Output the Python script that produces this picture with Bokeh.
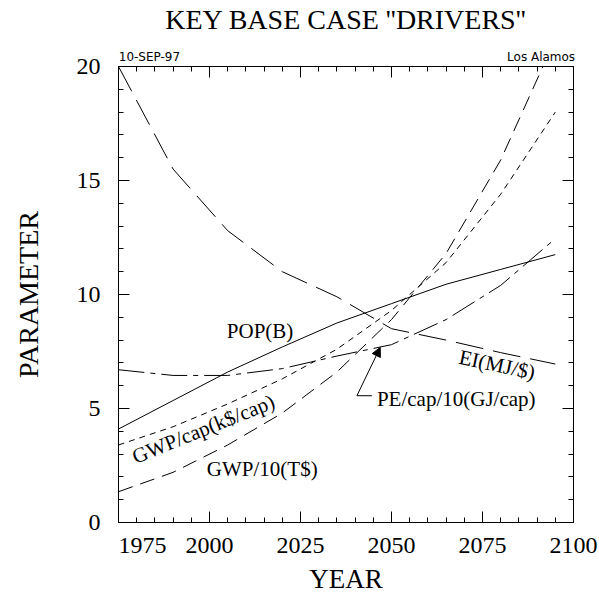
from bokeh.plotting import figure
from bokeh.models import (Range1d, LinearAxis, FixedTicker, Label, Arrow,
                          NormalHead, CustomJSTickFormatter)
from bokeh.embed import file_html
from bokeh.resources import INLINE

# ---- data ----
years = [1975, 1990, 2005, 2020, 2035, 2050, 2065, 2080, 2095]
pop_b = [4.1, 5.35, 6.6, 7.7, 8.75, 9.6, 10.45, 11.1, 11.75]
gwp_cap = [3.4, 4.2, 5.2, 6.3, 7.6, 9.3, 11.4, 14.4, 18.0]
gwp_10 = [1.35, 2.2, 3.4, 4.8, 6.6, 8.9, 11.8, 15.9, 21.2]
ei_mj = [20.0, 15.5, 12.8, 11.0, 9.9, 8.5, 8.0, 7.45, 6.95]
pe_cap_10 = [6.7, 6.45, 6.45, 6.75, 7.3, 7.8, 8.9, 10.4, 12.45]

x_major = [1975, 2000, 2025, 2050, 2075, 2100]
x_minor = list(range(1975, 2101, 5))
y_major = [0, 5, 10, 15, 20]
y_minor = list(range(0, 21))
x_tick_labels = ["1975", "2000", "2025", "2050", "2075", "2100"]
# where each x tick label is centred (the first one sits inside the frame edge)
x_label_pos = [1981.6, 2000, 2025, 2050, 2075, 2100]

title_text = "KEY BASE CASE ''DRIVERS''"
title_pos = [2037.5]
x_title = "YEAR"
y_title = "PARAMETER"
corner_texts = ["10-SEP-97", "Los Alamos"]
corner_pos = [1983.5, 2091.1]

SERIF = "Liberation Serif"
SANS = "DejaVu Sans"

p = figure(width=599, height=598, x_range=Range1d(1975, 2100), y_range=Range1d(0, 20),
           output_backend="svg", toolbar_location=None, title=None,
           min_border_left=118, min_border_right=26, min_border_top=66, min_border_bottom=76,
           x_axis_location=None, y_axis_location=None)
p.xgrid.visible = False
p.ygrid.visible = False
p.outline_line_color = "black"
p.background_fill_color = "white"
p.border_fill_color = "white"


def pick(vals, labs):
    return CustomJSTickFormatter(args=dict(vals=vals, labs=labs), code="""
        let best = 0, d = 1e9;
        for (let i = 0; i < vals.length; i++) {
            const e = Math.abs(vals[i] - tick);
            if (e < d) { d = e; best = i; }
        }
        return labs[best];
    """)


def tick_axis(ticks, minors):
    ax = LinearAxis()
    ax.ticker = FixedTicker(ticks=ticks, minor_ticks=minors)
    ax.axis_line_color = "black"
    ax.major_tick_in = 11
    ax.major_tick_out = 0
    ax.minor_tick_in = 5
    ax.minor_tick_out = 0
    ax.major_tick_line_color = "black"
    ax.minor_tick_line_color = "black"
    return ax


def hide_labels(ax):
    ax.formatter = CustomJSTickFormatter(code="return ''")
    ax.major_label_standoff = 0
    ax.major_label_text_font_size = "1px"


def label_axis(pos, labs, font, size, standoff):
    ax = LinearAxis()
    ax.ticker = FixedTicker(ticks=pos, minor_ticks=[])
    ax.formatter = pick(pos, labs)
    ax.axis_line_color = None
    ax.major_tick_line_color = None
    ax.minor_tick_line_color = None
    ax.major_tick_in = 0
    ax.major_tick_out = 0
    ax.major_label_text_font = font
    ax.major_label_text_font_size = size
    ax.major_label_text_color = "black"
    ax.major_label_standoff = standoff
    return ax


# left axis: ticks + labels + title
left = tick_axis(y_major, y_minor)
left.major_label_text_font = SERIF
left.major_label_text_font_size = "24px"
left.major_label_text_color = "black"
left.major_label_standoff = 18
left.axis_label = y_title
left.axis_label_text_font = SERIF
left.axis_label_text_font_size = "28px"
left.axis_label_text_font_style = "normal"
left.axis_label_text_color = "black"
left.axis_label_standoff = 30
p.add_layout(left, "left")

right = tick_axis(y_major, y_minor)
hide_labels(right)
p.add_layout(right, "right")

# bottom: tick marks, then a label row carrying the year labels and the axis title
below = tick_axis(x_major, x_minor)
hide_labels(below)
p.add_layout(below, "below")
below_lab = label_axis(x_label_pos, x_tick_labels, SERIF, "24px", 15)
below_lab.axis_label = x_title
below_lab.axis_label_text_font = SERIF
below_lab.axis_label_text_font_size = "27px"
below_lab.axis_label_text_font_style = "normal"
below_lab.axis_label_text_color = "black"
below_lab.axis_label_standoff = 8
p.add_layout(below_lab, "below")

# top: tick marks, corner texts, then the title row
above = tick_axis(x_major, x_minor)
hide_labels(above)
p.add_layout(above, "above")
above_lab = label_axis(corner_pos, corner_texts, SANS, "12px", 3)
p.add_layout(above_lab, "above")
title_row = label_axis(title_pos, [title_text], SERIF, "28px", 12)
p.add_layout(title_row, "above")

# ---- curves ----
p.line(years, pop_b, line_color="black", line_width=1)
p.line(years, gwp_cap, line_color="black", line_width=1, line_dash="6 5")
p.line(years, gwp_10, line_color="black", line_width=1, line_dash="15 8")
p.line(years, ei_mj, line_color="black", line_width=1, line_dash="28 10")
p.line(years, pe_cap_10, line_color="black", line_width=1, line_dash="26 6 5 6")

# ---- curve labels ----
lab = dict(text_font=SERIF, text_font_size="21px", text_color="black")
p.add_layout(Label(x=2013.9, y=8.4, text="POP(B)", text_align="center",
                   text_baseline="middle", **lab))
p.add_layout(Label(x=1998.3, y=4.1, text="GWP/cap(k$/cap)", text_align="center",
                   text_baseline="middle", angle=22, angle_units="deg", **lab))
p.add_layout(Label(x=2014.5, y=2.35, text="GWP/10(T$)", text_align="center",
                   text_baseline="middle", **lab))
p.add_layout(Label(x=2079.0, y=6.92, text="EI(MJ/$)", text_align="center",
                   text_baseline="middle", angle=-12, angle_units="deg", **lab))
p.add_layout(Label(x=2046.0, y=5.43, text="PE/cap/10(GJ/cap)", text_align="left",
                   text_baseline="middle", **lab))

# pointer to the PE/cap curve
arrow_tail = (2040.5, 5.56)
arrow_head = (2046.9, 7.68)
leader_end = 2044.6
p.add_layout(Arrow(end=NormalHead(size=9, fill_color="black", line_color="black"),
                   x_start=arrow_tail[0], y_start=arrow_tail[1],
                   x_end=arrow_head[0], y_end=arrow_head[1], line_width=1))
p.add_layout(Arrow(end=None, x_start=arrow_tail[0], y_start=arrow_tail[1],
                   x_end=leader_end, y_end=arrow_tail[1], line_width=1))

open("out.html", "w").write(file_html(p, INLINE))
